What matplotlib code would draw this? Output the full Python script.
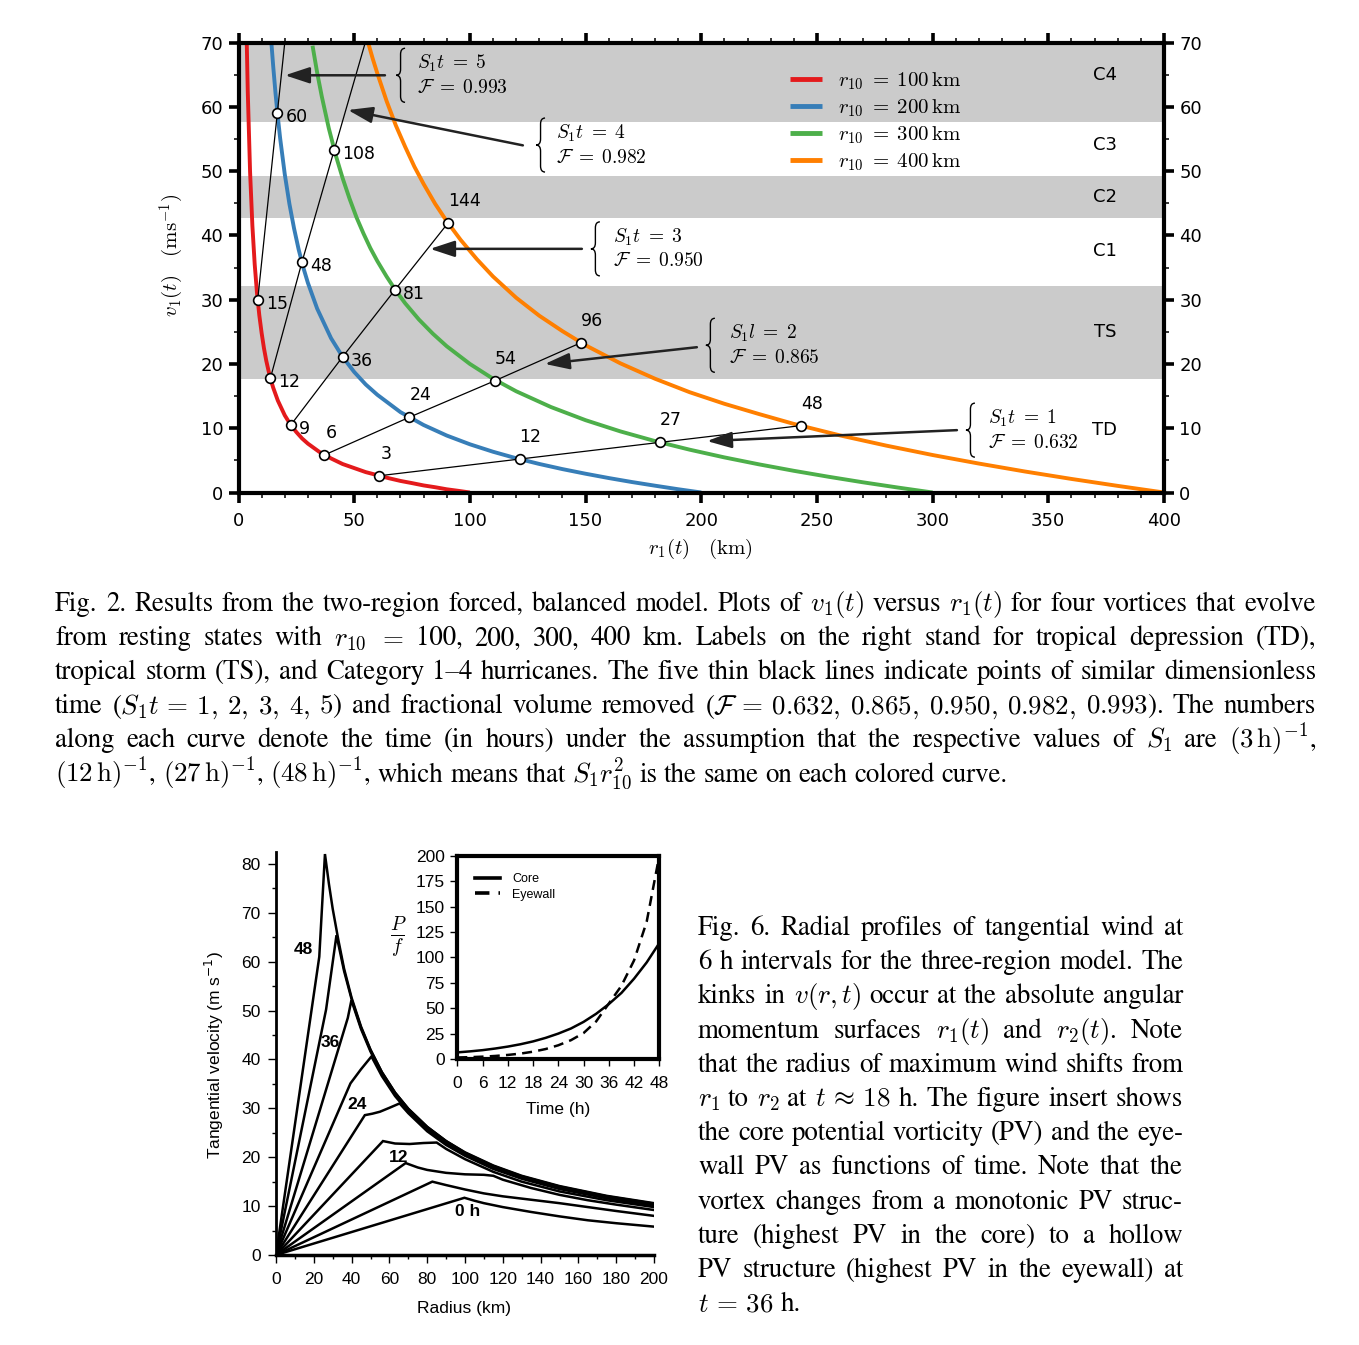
import matplotlib
matplotlib.use('Agg')
import matplotlib.pyplot as plt
import matplotlib.transforms as mtransforms
from matplotlib.path import Path
from matplotlib.patches import PathPatch
from matplotlib.ticker import MultipleLocator

W, H, DPI = 1359, 1345, 100
plt.rcParams['mathtext.fontset'] = 'cm'

# ---------------- Fig. 2 data ----------------
colors = ['#e41a1c', '#377eb8', '#4daf4a', '#ff7f00']
r10_labels = ['100', '200', '300', '400']

red_r = [3.55, 4, 5, 6, 7, 8, 9, 10, 11, 12, 13, 14, 15, 17, 20, 22.5, 25, 27.5, 30, 35, 40, 45,
         50, 55, 60, 65, 70, 75, 80, 85, 90, 95, 100]
red_v = [70.3, 62.4, 49.9, 41.5, 35.5, 31.0, 27.55, 24.8, 22.45, 20.5, 18.9, 17.5, 16.3, 14.3,
         12.0, 10.55, 9.4, 8.4, 7.6, 6.3, 5.3, 4.43, 3.8, 3.17, 2.7, 2.22, 1.8, 1.46, 1.1, 0.82,
         0.5, 0.26, 0.0]
blue_r = [14.2, 15, 16, 17, 18, 20, 22, 24, 26, 28, 30, 34, 40, 45, 50, 55, 60, 70, 80, 90, 100,
          110, 120, 130, 140, 150, 160, 170, 180, 190, 200]
blue_v = [70.0, 66.3, 62.1, 58.4, 55.1, 49.5, 44.9, 41.1, 37.8, 35.0, 32.6, 28.6, 24.0, 21.1,
          18.75, 16.8, 15.2, 12.5, 10.5, 8.86, 7.5, 6.34, 5.33, 4.44, 3.64, 2.92, 2.25, 1.63,
          1.06, 0.51, 0.0]
green_r = [32, 34, 36, 39, 42, 45, 48, 51, 54, 57, 60, 64, 68, 72, 78, 84, 90, 100, 110, 120, 135,
           150, 165, 180, 195, 210, 225, 240, 255, 270, 285, 300]
green_v = [69.5, 65.3, 61.6, 56.7, 52.5, 48.9, 45.7, 42.8, 40.3, 38.0, 36.0, 33.6, 31.4, 29.45,
           26.9, 24.7, 22.75, 20.0, 17.7, 15.75, 13.3, 11.25, 9.51, 8.0, 6.66, 5.46, 4.375, 3.375,
           2.45, 1.58, 0.77, 0.0]
orange_r = [56, 58, 60, 64, 68, 72, 76, 80, 85, 90, 96, 103, 110, 120, 130, 140, 150, 165, 180,
            195, 210, 225, 240, 260, 280, 300, 320, 340, 360, 380, 400]
orange_v = [70.0, 67.5, 65.2, 60.9, 57.1, 53.8, 50.7, 48.0, 44.9, 42.2, 39.3, 36.3, 33.6, 30.3,
            27.5, 25.1, 22.9, 20.1, 17.7, 15.6, 13.8, 12.2, 10.67, 8.88, 7.29, 5.83, 4.5, 3.26,
            2.11, 1.03, 0.0]

# markers (radius, speed, hours) along each curve, ordered by S1 t = 1..5
red_mr = [60.7, 36.9, 22.6, 13.8, 8.3]
red_mv = [2.6, 5.8, 10.5, 17.8, 30.0]
red_mt = [3, 6, 9, 12, 15]
blue_mr = [121.5, 73.8, 45.0, 27.4, 16.8]
blue_mv = [5.2, 11.7, 21.1, 35.8, 59.1]
blue_mt = [12, 24, 36, 48, 60]
green_mr = [182.2, 110.9, 67.6, 41.4]
green_mv = [7.8, 17.4, 31.5, 53.3]
green_mt = [27, 54, 81, 108]
orange_mr = [243.0, 148.0, 90.5]
orange_mv = [10.4, 23.3, 41.9]
orange_mt = [48, 96, 144]
line_top_r = {3: 54.8, 4: 20.0}

band_lo = [17.6, 42.7, 57.6]
band_hi = [32.2, 49.2, 70.0]
cat_names = ['TD', 'TS', 'C1', 'C2', 'C3', 'C4']
cat_v = [9.7, 25.0, 37.5, 46.0, 54.0, 65.0]

s1t_vals = ['1', '2', '3', '4', '5']
s1t_sym = ['t', 'l', 't', 't', 't']
frac_vals = ['0.632', '0.865', '0.950', '0.982', '0.993']

# ---------------- Fig. 6 data ----------------
prof_r_00 = [0, 99.7, 105, 110, 120, 135, 150, 165, 180, 200]
prof_v_00 = [0, 11.7, 11.1, 10.6, 9.8, 8.8, 7.9, 7.1, 6.5, 5.8]
prof_r_06 = [0, 82.7, 90, 100, 110, 120, 135, 150, 165, 180, 200]
prof_v_06 = [0, 15.0, 14.3, 13.4, 12.6, 12.0, 11.3, 10.6, 9.8, 9.0, 8.0]
prof_r_12 = [0, 68.6, 75, 80, 90, 100, 110, 115, 120, 135, 150, 165, 180, 200]
prof_v_12 = [0, 18.8, 17.9, 17.4, 16.8, 16.5, 16.4, 16.2, 15.4, 13.7, 12.3, 11.2, 10.3, 9.2]
prof_r_18 = [0, 56.6, 63, 70.7, 78, 85, 90, 100, 115, 130, 150, 175, 200]
prof_v_18 = [0, 23.3, 22.8, 22.7, 22.9, 23.0, 21.7, 19.6, 17.0, 15.0, 13.0, 11.2, 9.8]
prof_r_24 = [0, 47.0, 51, 55, 60, 65.4, 70, 80, 90, 100, 115, 130, 150, 175, 200]
prof_v_24 = [0, 28.6, 28.9, 29.3, 30.1, 31.0, 29.0, 25.3, 22.5, 20.3, 17.6, 15.6, 13.5, 11.6, 10.1]
prof_r_30 = [0, 39.4, 45, 50.5, 56, 63, 70, 80, 90, 100, 115, 130, 150, 175, 200]
prof_v_30 = [0, 35.1, 38.0, 40.6, 36.6, 32.5, 29.3, 25.6, 22.8, 20.5, 17.8, 15.8, 13.7, 11.7, 10.25]
prof_r_36 = [0, 38.0, 39.9, 45, 50, 56, 63, 70, 80, 90, 100, 115, 130, 150, 175, 200]
prof_v_36 = [0, 48.5, 52.1, 46.2, 41.6, 37.1, 33.0, 29.7, 26.0, 23.1, 20.8, 18.1, 16.0, 13.9, 11.9, 10.4]
prof_r_42 = [0, 26.5, 32.0, 36, 40, 45, 50, 56, 63, 70, 80, 90, 100, 115, 130, 150, 175, 200]
prof_v_42 = [0, 50.2, 65.4, 58.1, 52.3, 46.5, 41.9, 37.4, 33.2, 29.9, 26.2, 23.3, 20.9, 18.2,
             16.1, 14.0, 12.0, 10.5]
prof_r_48 = [0, 22.9, 25.9, 28, 30, 33, 36, 40, 45, 50, 56, 63, 70, 80, 90, 100, 115, 130, 150, 175, 200]
prof_v_48 = [0, 61.0, 82.0, 75.9, 70.8, 64.4, 58.6, 52.6, 46.7, 42.0, 37.4, 33.2, 29.9, 26.2,
             23.3, 21.0, 18.3, 16.2, 14.1, 12.1, 10.6]
prof_labels = ['48', '36', '24', '12', '0 h']
prof_label_r = [14.6, 28.5, 43.0, 64.7, 101.5]
prof_label_v = [62.4, 43.4, 30.8, 19.9, 8.9]

t_hours = [0, 3, 6, 9, 12, 15, 18, 21, 24, 27, 30, 33, 36, 39, 42, 45, 48]
core_pv = [6.5, 7.5, 8.7, 10.3, 12.2, 14.5, 17.3, 20.8, 25.0, 30.0, 36.5, 44.5, 54.0, 65.0,
           79.0, 95.0, 114.0]
eyewall_pv = [1.5, 1.8, 2.3, 3.0, 4.0, 5.3, 7.2, 9.8, 13.5, 18.5, 25.5, 37.0, 54.5, 72.0,
              97.0, 135.0, 200.0]

cap2_lines = [
    "Fig. 2. Results from the two-region forced, balanced model. Plots of $v_1(t)$ versus $r_1(t)$ for four vortices that evolve",
    "from resting states with $r_{10}$ $=$ 100, 200, 300, 400 km. Labels on the right stand for tropical depression (TD),",
    "tropical storm (TS), and Category 1\u20134 hurricanes. The five thin black lines indicate points of similar dimensionless",
    "time ($S_1t\\,=\\,1,$ $2,$ $3,$ $4,$ $5$) and fractional volume removed ($\\mathcal{F}\\,=\\,0.632,$ $0.865,$ $0.950,$ $0.982,$ $0.993$). The numbers",
    "along each curve denote the time (in hours) under the assumption that the respective values of $S_1$ are $(3\\,\\mathrm{h})^{-1}$,",
    "$(12\\,\\mathrm{h})^{-1}$, $(27\\,\\mathrm{h})^{-1}$, $(48\\,\\mathrm{h})^{-1}$, which means that $S_1r_{10}^2$ is the same on each colored curve.",
]
cap6_lines = [
    "Fig. 6. Radial profiles of tangential wind at",
    "6 h intervals for the three-region model. The",
    "kinks in $v(r,t)$ occur at the absolute angular",
    "momentum surfaces $r_1(t)$ and $r_2(t)$. Note",
    "that the radius of maximum wind shifts from",
    "$r_1$ to $r_2$ at $t\\,\\approx\\,18$ h. The figure insert shows",
    "the core potential vorticity (PV) and the eye-",
    "wall PV as functions of time. Note that the",
    "vortex changes from a monotonic PV struc-",
    "ture (highest PV in the core) to a hollow",
    "PV structure (highest PV in the eyewall) at",
    "$t\\,=\\,36$ h.",
]


def fx(px):
    return px / W


def fy(py):
    return 1 - py / H


fig = plt.figure(figsize=(W / DPI, H / DPI), dpi=DPI)

# ================= top chart =================
ax = fig.add_axes([fx(238.5), fy(492.5), 925.5 / W, 450 / H])
for lo, hi in zip(band_lo, band_hi):
    ax.axhspan(lo, hi, color='#cbcbcb', lw=0, zorder=0)

curves = [(red_r, red_v), (blue_r, blue_v), (green_r, green_v), (orange_r, orange_v)]
for (cr, cv), c, lab in zip(curves, colors, r10_labels):
    ax.plot(cr, cv, color=c, lw=2.8, zorder=2,
            label=r'$r_{10}\;=\;' + lab + r'\,\mathrm{km}$', solid_capstyle='butt')

marks = [(red_mr, red_mv, red_mt), (blue_mr, blue_mv, blue_mt),
         (green_mr, green_mv, green_mt), (orange_mr, orange_mv, orange_mt)]
for k in range(5):
    lr = [m[0][k] for m in marks if k < len(m[0])]
    lv = [m[1][k] for m in marks if k < len(m[1])]
    if k in line_top_r:
        lr.append(line_top_r[k])
        lv.append(70)
    ax.plot(lr, lv, color='k', lw=0.9, zorder=3)

above = (11, 22)
right = (8, -4)
offsets = [
    [(7, 22), (7, 22), right, right, right],
    [above, above, right, right, right],
    [above, above, right, right],
    [above, above, (17, 22)],
]
for (mr, mv, mt), offs in zip(marks, offsets):
    ax.plot(mr, mv, 'o', ms=7, mfc='white', mec='k', mew=1.2, zorder=5)
    for r, v, t, o in zip(mr, mv, mt, offs):
        ax.annotate(str(t), (r, v), xytext=o, textcoords='offset pixels',
                    ha='left' if o[1] < 0 else 'center', va='center', fontsize=12.5, zorder=6)

# braces, labels and arrows
brace_r = [314.4, 202.0, 152.3, 128.6, 68.1]
brace_v = [9.7, 22.9, 37.9, 54.05, 64.9]
text_r = [323.9, 212.0, 162.0, 137.2, 77.1]
tail = [(310.5, 9.7), (198.1, 22.6), (148.4, 37.9), (122.9, 54.0), (63.3, 64.9)]
head = [(202.5, 8.0), (132.4, 20.0), (82.8, 37.9), (47.3, 59.5), (20.1, 64.9)]


def draw_brace(x, y, h=27, w=9, rr=6):
    verts = [(w, h), (w / 2, h), (w / 2, h - rr), (w / 2, rr), (w / 2, 0), (0, 0),
             (w / 2, 0), (w / 2, -rr), (w / 2, -h + rr), (w / 2, -h), (w, -h)]
    codes = [Path.MOVETO, Path.CURVE3, Path.CURVE3, Path.LINETO, Path.CURVE3, Path.CURVE3,
             Path.CURVE3, Path.CURVE3, Path.LINETO, Path.CURVE3, Path.CURVE3]
    tr = mtransforms.Affine2D() + mtransforms.ScaledTranslation(x, y, ax.transData)
    ax.add_patch(PathPatch(Path(verts, codes), transform=tr, fill=False, lw=1.0,
                           color='k', clip_on=False, zorder=6))


for i in range(5):
    draw_brace(brace_r[i], brace_v[i])
    ax.annotate(r'$S_1' + s1t_sym[i] + r'\;=\;' + s1t_vals[i] + '$', (text_r[i], brace_v[i]),
                xytext=(0, 12), textcoords='offset pixels', ha='left', va='center', fontsize=14)
    ax.annotate(r'$\mathcal{F}\;=\;' + frac_vals[i] + '$', (text_r[i], brace_v[i]),
                xytext=(0, -12), textcoords='offset pixels', ha='left', va='center', fontsize=14)
    ax.annotate('', xy=head[i], xytext=tail[i], zorder=4,
                arrowprops=dict(arrowstyle='-|>,head_length=1.0,head_width=0.33',
                                mutation_scale=15, color='#222222', lw=1.8,
                                shrinkA=0, shrinkB=0))

for name, v in zip(cat_names, cat_v):
    ax.text(374.5, v, name, ha='center', va='center', fontsize=13)

ax.set_xlim(0, 400)
ax.set_ylim(0, 70)
ax.xaxis.set_major_locator(MultipleLocator(50))
ax.xaxis.set_minor_locator(MultipleLocator(10))
ax.yaxis.set_major_locator(MultipleLocator(10))
ax.yaxis.set_minor_locator(MultipleLocator(5))
ax.tick_params(which='major', direction='out', length=7, width=2.6, top=True, right=True,
               labelright=True, labelsize=13)
ax.tick_params(axis='x', which='major', pad=7)
ax.tick_params(axis='y', which='major', pad=4)
ax.tick_params(which='minor', direction='out', length=3.5, width=1.1, top=True, right=True)
for s in ax.spines.values():
    s.set_linewidth(3)
leg = ax.legend(loc='upper left', bbox_to_anchor=(0.596, 0.938), frameon=False, fontsize=15,
                handlelength=1.55, handletextpad=0.75, labelspacing=0.26, borderpad=0,
                borderaxespad=0)
for lh in leg.get_lines():
    lh.set_linewidth(3.5)
fig.text(fx(700), fy(549), r'$r_1(t)\quad(\mathrm{km})$', ha='center', va='center', fontsize=15)
fig.text(fx(172), fy(255), r'$v_1(t)\quad(\mathrm{ms}^{-1})$', ha='center', va='center',
         fontsize=15, rotation=90)

# ================= bottom chart =================
sans = 'Liberation Sans'
ax2 = fig.add_axes([fx(276), fy(1255), 378 / W, (1255 - 851.6) / H])
profiles = [(prof_r_00, prof_v_00), (prof_r_06, prof_v_06), (prof_r_12, prof_v_12),
            (prof_r_18, prof_v_18), (prof_r_24, prof_v_24), (prof_r_30, prof_v_30),
            (prof_r_36, prof_v_36), (prof_r_42, prof_v_42), (prof_r_48, prof_v_48)]
for pr, pv in profiles:
    ax2.plot(pr, pv, color='k', lw=1.8, solid_joinstyle='miter')
for lab, r, v in zip(prof_labels, prof_label_r, prof_label_v):
    ax2.text(r, v, lab, ha='center', va='center', fontsize=12.5, fontweight='bold', family=sans)
ax2.set_xlim(0, 200)
ax2.set_ylim(0, 82.5)
ax2.xaxis.set_major_locator(MultipleLocator(20))
ax2.xaxis.set_minor_locator(MultipleLocator(10))
ax2.yaxis.set_major_locator(MultipleLocator(10))
ax2.yaxis.set_minor_locator(MultipleLocator(5))
ax2.spines['top'].set_visible(False)
ax2.spines['right'].set_visible(False)
ax2.spines['left'].set_linewidth(2)
ax2.spines['bottom'].set_linewidth(2.5)
ax2.tick_params(which='major', direction='out', length=6, width=1, labelsize=12.5)
ax2.tick_params(axis='x', which='major', pad=6)
ax2.tick_params(axis='y', which='major', pad=5)
ax2.tick_params(which='minor', direction='out', length=3, width=1)
for lbl in ax2.get_xticklabels() + ax2.get_yticklabels():
    lbl.set_family(sans)
fig.text(fx(464), fy(1308), 'Radius (km)', ha='center', va='center', fontsize=12.5, family=sans)
fig.text(fx(214), fy(1055), 'Tangential velocity (m s$^{-1}$)', ha='center', va='center',
         fontsize=12.5, family=sans, rotation=90, math_fontfamily='dejavusans')

# inset
ax3 = fig.add_axes([fx(457.3), fy(1059), 202 / W, 203.3 / H])
ax3.plot(t_hours, core_pv, color='k', lw=1.8, label='Core')
ax3.plot(t_hours, eyewall_pv, color='k', lw=1.8, ls=(0, (4, 2.5)), label='Eyewall')
ax3.set_xlim(0, 48)
ax3.set_ylim(0, 200)
ax3.xaxis.set_major_locator(MultipleLocator(6))
ax3.yaxis.set_major_locator(MultipleLocator(25))
for s in ax3.spines.values():
    s.set_linewidth(3)
ax3.tick_params(direction='out', length=5, width=1, labelsize=12.5)
ax3.tick_params(axis='x', pad=7)
ax3.tick_params(axis='y', pad=4)
for lbl in ax3.get_xticklabels() + ax3.get_yticklabels():
    lbl.set_family(sans)
ax3.set_xlabel('Time (h)', fontsize=12.5, family=sans, labelpad=8)
ax3.text(-0.29, 0.6, r'$\frac{P}{f}$', transform=ax3.transAxes, ha='center', va='center',
         fontsize=20)
leg3 = ax3.legend(loc='upper left', frameon=False, prop={'family': sans, 'size': 9},
                  handlelength=2.0, handletextpad=1.0, labelspacing=0.3,
                  bbox_to_anchor=(0.03, 0.97))
for lh in leg3.get_lines():
    lh.set_linewidth(2.6)

# ================= captions =================
rend = fig.canvas.get_renderer()


def caption(lines, x0, x1, base0, step, size):
    for i, line in enumerate(lines):
        words = line.split(' ')
        arts = [fig.text(0, 0, w, fontsize=size, family='STIXGeneral', math_fontfamily='cm',
                         va='baseline', ha='left') for w in words]
        widths = [a.get_window_extent(rend).width for a in arts]
        if i == len(lines) - 1:
            gap = 0.25 * size * DPI / 72
        else:
            gap = (x1 - x0 - sum(widths)) / (len(words) - 1)
        x = x0
        for a, wd in zip(arts, widths):
            a.set_position((fx(x), fy(base0 + i * step)))
            x += wd + gap


caption(cap2_lines, 55, 1316, 611, 34.1, 19.4)
caption(cap6_lines, 698, 1183, 935, 34.2, 19.4)

fig.savefig('out.png', dpi=DPI)
